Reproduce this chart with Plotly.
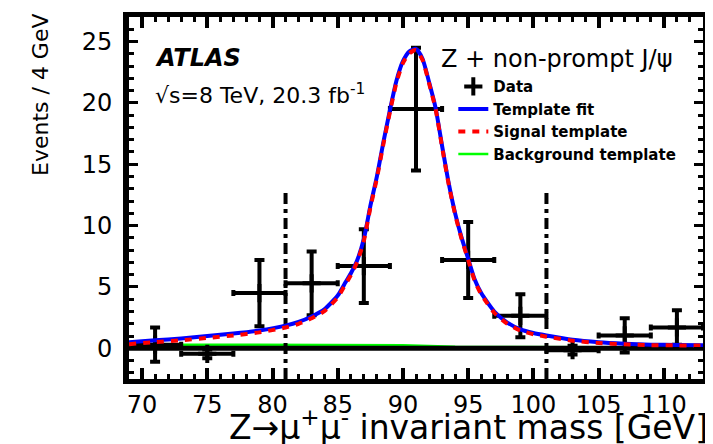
import plotly.graph_objects as go

# ---------------- data ----------------
bin_centers = [71, 75, 79, 83, 87, 91, 95, 99, 103, 107, 111]
events = [0.3, -0.45, 4.5, 5.3, 6.7, 19.5, 7.2, 2.65, -0.15, 1.05, 1.7]
events_err = [1.4, 0.35, 2.7, 2.6, 3.0, 5.0, 3.1, 1.75, 0.35, 1.4, 1.4]
bin_half_width = [2] * 11

curve_mass = [69, 71, 73, 75, 77, 79, 81, 82, 83, 84, 85, 85.5, 86, 86.5, 87, 87.5,
              88, 88.5, 89, 89.5, 90, 90.5, 91, 91.5, 92, 92.5, 93, 93.5, 94, 94.5,
              95, 95.5, 96, 97, 98, 99, 100, 101, 103, 105, 107, 109, 111, 113]
template_fit = [0.50, 0.65, 0.80, 1.00, 1.20, 1.45, 1.85, 2.15, 2.60, 3.20, 4.30, 5.2,
                6.1, 7.2, 8.9, 11.6, 14.0, 16.8, 19.4, 21.8, 23.4, 24.2, 24.4, 23.6,
                21.7, 19.6, 16.5, 13.5, 11.0, 9.0, 7.3, 5.6, 4.5, 3.0, 2.1, 1.55,
                1.25, 1.05, 0.70, 0.50, 0.38, 0.30, 0.27, 0.25]
signal_template = [0.34, 0.50, 0.65, 0.85, 1.05, 1.30, 1.70, 2.00, 2.45, 3.05, 4.15, 5.05,
                   5.95, 7.05, 8.75, 11.45, 13.85, 16.65, 19.25, 21.65, 23.25, 24.05, 24.3,
                   23.5, 21.6, 19.5, 16.4, 13.4, 10.9, 8.9, 7.2, 5.5, 4.4, 2.9, 2.0,
                   1.45, 1.15, 0.95, 0.62, 0.44, 0.33, 0.26, 0.24, 0.23]
bkg_mass = [69, 81, 90, 94, 101, 113]
background_template = [0.30, 0.28, 0.26, 0.12, 0.09, 0.07]

signal_window = [81, 101]
window_line_y = [-2.5, 12.8]

x_range = [69, 113]
y_range = [-2.5, 27]
baseline_y = [0, 0]

FONT = "DejaVu Sans"

fig = go.Figure()

fig.add_trace(go.Scatter(
    x=bkg_mass, y=background_template, mode="lines", name="Background template",
    line=dict(color="#00ff00", width=2.5), legendrank=4))

fig.add_trace(go.Scatter(
    x=x_range, y=baseline_y, mode="lines", showlegend=False, hoverinfo="skip",
    line=dict(color="black", width=5)))

for xv in signal_window:
    fig.add_trace(go.Scatter(
        x=[xv, xv], y=window_line_y, mode="lines", showlegend=False,
        line=dict(color="black", width=4, dash="11px,5px,4px,5px"), hoverinfo="skip"))

fig.add_trace(go.Scatter(
    x=bin_centers, y=events, mode="markers", name="Data",
    marker=dict(symbol="cross-thin", size=13, color="black",
                line=dict(color="black", width=4)),
    error_y=dict(type="data", array=events_err, thickness=4, width=5, color="black"),
    error_x=dict(type="data", array=bin_half_width, thickness=4, width=3, color="black"),
    legendrank=1))

fig.add_trace(go.Scatter(
    x=curve_mass, y=template_fit, mode="lines", name="Template fit",
    line=dict(color="#0000ff", width=4, shape="spline", smoothing=0.6), legendrank=2))

fig.add_trace(go.Scatter(
    x=curve_mass, y=signal_template, mode="lines", name="Signal template",
    line=dict(color="#ff0000", width=4, dash="7px,7px", shape="spline", smoothing=0.6),
    legendrank=3))

axis_common = dict(showline=True, linecolor="black", mirror="allticks", ticks="inside",
                   tickcolor="black", showgrid=False, zeroline=False,
                   tickfont=dict(family=FONT, size=24, color="black"))

fig.update_xaxes(range=x_range, tick0=70, dtick=5, linewidth=5, ticklen=11, tickwidth=4,
                 ticklabelstandoff=0,
                 minor=dict(dtick=1, ticklen=5, tickwidth=3, tickcolor="black", ticks="inside"),
                 **axis_common)
fig.update_yaxes(range=y_range, tick0=0, dtick=5, linewidth=6, ticklen=9, tickwidth=3,
                 ticklabelstandoff=6,
                 minor=dict(dtick=1, ticklen=5, tickwidth=3, tickcolor="black", ticks="inside"),
                 **axis_common)

annotations = [
    dict(text="<b><i>ATLAS</i></b>", x=0.042, y=0.888, font=dict(size=24)),
    dict(text="√s=8 TeV, 20.3 fb<sup>-1</sup>", x=0.042, y=0.787, font=dict(size=22)),
    dict(text="Z + non-prompt J/ψ", x=0.540, y=0.883, font=dict(size=24)),
    dict(text="Events / 4 GeV", x=-0.153, y=0.785, textangle=-90, xanchor="center",
         font=dict(size=22)),
    dict(text="Z→μ<sup>+</sup>μ<sup>-</sup> invariant mass [GeV]", x=0.170, y=-0.128,
         font=dict(size=33)),
]
for a in annotations:
    a.setdefault("xanchor", "left")
    a["yanchor"] = "middle"
    a["xref"] = "paper"
    a["yref"] = "paper"
    a["showarrow"] = False
    a["font"] = dict(family=FONT, color="black", **a["font"])
    fig.add_annotation(**a)

# the page body adds an 8px offset, so the figure is 8px smaller than the window
fig.update_layout(
    width=705, height=436,
    margin=dict(l=121, r=5, t=4, b=65),
    plot_bgcolor="white", paper_bgcolor="white",
    font=dict(family=FONT, color="black"),
    legend=dict(x=0.565, y=0.853, xanchor="left", yanchor="top",
                bgcolor="rgba(0,0,0,0)", borderwidth=0,
                font=dict(family=FONT, size=15, color="black", weight="bold"),
                tracegroupgap=0),
    showlegend=True,
)

fig.write_html("out.html")
